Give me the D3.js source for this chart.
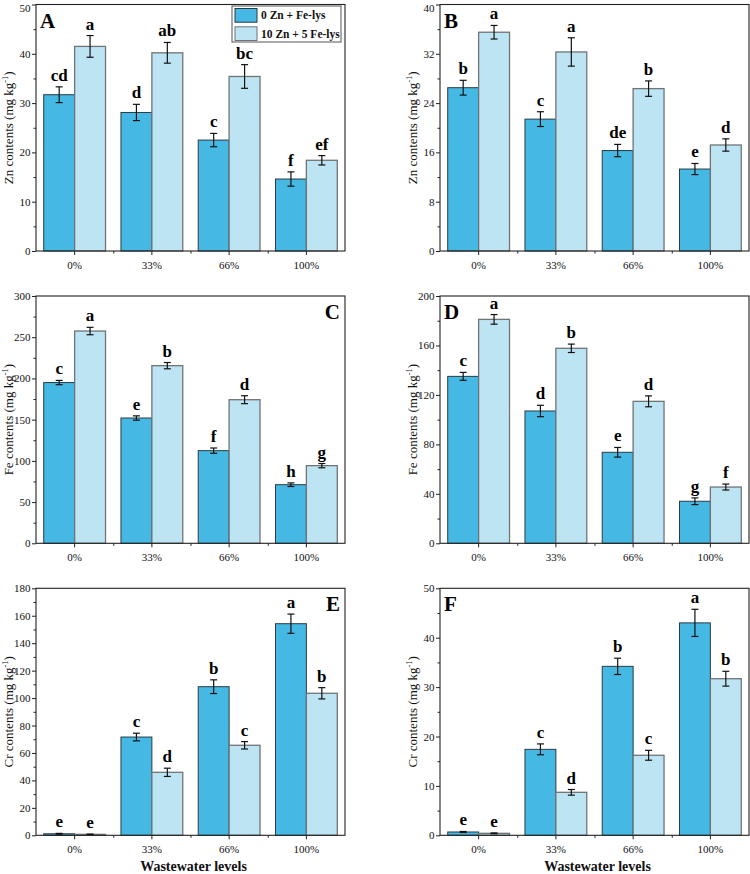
<!DOCTYPE html>
<html><head><meta charset="utf-8">
<script src="https://cdn.jsdelivr.net/npm/d3@7"></script>
<style>body{margin:0;background:#fff}</style>
</head><body><svg id="chart" width="750" height="874"></svg>
<script>
const categories = ["0%", "33%", "66%", "100%"];
const seriesNames = ["0 Zn + Fe-lys", "10 Zn + 5 Fe-lys"];

// Panel A – Zn
const aCtrl = [31.7, 28.1, 22.5, 14.6];
const aCtrlErr = [1.6, 1.65, 1.35, 1.45];
const aTrt = [41.5, 40.2, 35.4, 18.4];
const aTrtErr = [2.2, 2.1, 2.4, 0.95];
const aCtrlLetters = ["cd", "d", "c", "f"];
const aTrtLetters = ["a", "ab", "bc", "ef"];
const aTicks = [0, 10, 20, 30, 40, 50];

// Panel B – Zn
const bCtrl = [26.5, 21.4, 16.3, 13.3];
const bCtrlErr = [1.2, 1.2, 1.0, 0.9];
const bTrt = [35.5, 32.3, 26.35, 17.2];
const bTrtErr = [1.1, 2.3, 1.25, 1.0];
const bCtrlLetters = ["b", "c", "de", "e"];
const bTrtLetters = ["a", "a", "b", "d"];
const bTicks = [0, 8, 16, 24, 32, 40];

// Panel C – Fe
const cCtrl = [195, 152, 112.4, 71.1];
const cCtrlErr = [2.6, 2.6, 3.2, 2.2];
const cTrt = [257.5, 215.5, 174.2, 94.2];
const cTrtErr = [4.5, 3.8, 4.8, 2.6];
const cCtrlLetters = ["c", "e", "f", "h"];
const cTrtLetters = ["a", "b", "d", "g"];
const cTicks = [0, 50, 100, 150, 200, 250, 300];

// Panel D – Fe
const dCtrl = [135, 107, 73.6, 34];
const dCtrlErr = [3.2, 4.6, 3.9, 2.7];
const dTrt = [181.1, 157.7, 114.8, 45.5];
const dTrtErr = [3.9, 3.4, 4.4, 2.4];
const dCtrlLetters = ["c", "d", "e", "g"];
const dTrtLetters = ["a", "b", "d", "f"];
const dTicks = [0, 40, 80, 120, 160, 200];

// Panel E – Cr
const eCtrl = [1.1, 71.6, 108.3, 154.2];
const eCtrlErr = [0.3, 2.8, 5.0, 7.0];
const eTrt = [0.7, 45.9, 65.6, 103.5];
const eTrtErr = [0.2, 3.0, 2.7, 4.1];
const eCtrlLetters = ["e", "c", "b", "a"];
const eTrtLetters = ["e", "d", "c", "b"];
const eTicks = [0, 20, 40, 60, 80, 100, 120, 140, 160, 180];

// Panel F – Cr
const fCtrl = [0.67, 17.4, 34.2, 43.0];
const fCtrlErr = [0.1, 1.1, 1.65, 2.75];
const fTrt = [0.4, 8.7, 16.2, 31.7];
const fTrtErr = [0.08, 0.57, 1.0, 1.5];
const fCtrlLetters = ["e", "c", "b", "a"];
const fTrtLetters = ["e", "d", "c", "b"];
const fTicks = [0, 10, 20, 30, 40, 50];

const serif = '"Times New Roman", "Liberation Serif", Times, serif';
const colCtrl = "#45b9e4", colTrt = "#bde4f2";

const panels = [
  {id: "A", el: "Zn", ctrl: aCtrl, ce: aCtrlErr, trt: aTrt, te: aTrtErr, cl: aCtrlLetters, tl: aTrtLetters, ticks: aTicks, col: 0, row: 0, labelPos: "left", legend: true},
  {id: "B", el: "Zn", ctrl: bCtrl, ce: bCtrlErr, trt: bTrt, te: bTrtErr, cl: bCtrlLetters, tl: bTrtLetters, ticks: bTicks, col: 1, row: 0, labelPos: "left"},
  {id: "C", el: "Fe", ctrl: cCtrl, ce: cCtrlErr, trt: cTrt, te: cTrtErr, cl: cCtrlLetters, tl: cTrtLetters, ticks: cTicks, col: 0, row: 1, labelPos: "right"},
  {id: "D", el: "Fe", ctrl: dCtrl, ce: dCtrlErr, trt: dTrt, te: dTrtErr, cl: dCtrlLetters, tl: dTrtLetters, ticks: dTicks, col: 1, row: 1, labelPos: "left"},
  {id: "E", el: "Cr", ctrl: eCtrl, ce: eCtrlErr, trt: eTrt, te: eTrtErr, cl: eCtrlLetters, tl: eTrtLetters, ticks: eTicks, col: 0, row: 2, labelPos: "right", xTitle: true},
  {id: "F", el: "Cr", ctrl: fCtrl, ce: fCtrlErr, trt: fTrt, te: fTrtErr, cl: fCtrlLetters, tl: fTrtLetters, ticks: fTicks, col: 1, row: 2, labelPos: "left", xTitle: true}
];

const colX = [[36, 345], [440, 749]];
const rowY = [[4.5, 251], [296, 543.3], [588.3, 835.3]];

const svg = d3.select("#chart");

panels.forEach(p => {
  const [x0, x1] = colX[p.col];
  const [y0, y1] = rowY[p.row];
  const g = svg.append("g");
  const yMax = p.ticks[p.ticks.length - 1];
  const x = d3.scaleBand().domain(categories).range([x0, x1]).paddingInner(0.2).paddingOuter(0.1);
  const xs = d3.scaleBand().domain([0, 1]).range([0, x.bandwidth()]);
  const y = d3.scaleLinear().domain([0, yMax]).range([y1, y0]);
  const xb = d3.scaleLinear().domain([0, categories.length]).range([x0, x1]);

  const step = p.ticks[1] - p.ticks[0];
  const minor = p.ticks.slice(0, -1).map(t => t + step / 2);

  const data = categories.flatMap((c, i) => [
    {c, s: 0, v: p.ctrl[i], e: p.ce[i], l: p.cl[i]},
    {c, s: 1, v: p.trt[i], e: p.te[i], l: p.tl[i]}
  ]);
  g.selectAll("rect.bar").data(data).join("rect")
    .attr("x", d => x(d.c) + xs(d.s))
    .attr("y", d => y(d.v))
    .attr("width", xs.bandwidth())
    .attr("height", d => y(0) - y(d.v))
    .attr("fill", d => d.s === 0 ? colCtrl : colTrt)
    .attr("stroke", d => d.s === 0 ? "#2b3a40" : "#6f7477")
    .attr("stroke-width", d => d.s === 0 ? 1 : 1.3);

  const eb = g.selectAll("g.err").data(data).join("g");
  const cx = d => x(d.c) + xs(d.s) + xs.bandwidth() / 2;
  eb.append("line").attr("x1", cx).attr("x2", cx)
    .attr("y1", d => y(d.v + d.e)).attr("y2", d => y(Math.max(0, d.v - d.e)))
    .attr("stroke", "#111").attr("stroke-width", 1.2);
  eb.append("line").attr("x1", d => cx(d) - 3.5).attr("x2", d => cx(d) + 3.5)
    .attr("y1", d => y(d.v + d.e)).attr("y2", d => y(d.v + d.e))
    .attr("stroke", "#111").attr("stroke-width", 1.2);
  eb.append("line").attr("x1", d => cx(d) - 3.5).attr("x2", d => cx(d) + 3.5)
    .attr("y1", d => y(Math.max(0, d.v - d.e))).attr("y2", d => y(Math.max(0, d.v - d.e)))
    .attr("stroke", "#111").attr("stroke-width", 1.2);

  g.selectAll("text.let").data(data).join("text")
    .attr("x", cx)
    .attr("y", d => y(d.v + d.e) - 6)
    .attr("text-anchor", "middle")
    .attr("font-family", serif).attr("font-weight", "bold").attr("font-size", 17)
    .attr("fill", "#000")
    .text(d => d.l);

  const ya = g.append("g").attr("transform", `translate(${x0},0)`)
    .call(d3.axisLeft(y).tickValues(p.ticks).tickSize(4).tickPadding(1.5));
  ya.select(".domain").remove();
  ya.selectAll("text").attr("font-family", serif).attr("font-size", 11).attr("fill", "#111");
  ya.selectAll("text").filter(d => d === yMax && p.row === 0).attr("dy", "0.62em");
  ya.selectAll("line").attr("stroke", "#222");
  const ym = g.append("g").attr("transform", `translate(${x0},0)`)
    .call(d3.axisLeft(y).tickValues(minor).tickSize(2.5).tickFormat(""));
  ym.select(".domain").remove();
  ym.selectAll("line").attr("stroke", "#222");

  const xa = g.append("g").attr("transform", `translate(0,${y1})`)
    .call(d3.axisBottom(x).tickSize(4).tickPadding(6));
  xa.select(".domain").remove();
  xa.selectAll("text").attr("font-family", serif).attr("font-size", 11).attr("fill", "#111");
  xa.selectAll("line").attr("stroke", "#222");
  const xm = g.append("g").attr("transform", `translate(0,${y1})`)
    .call(d3.axisBottom(xb).tickValues(d3.range(1, categories.length)).tickSize(2.5).tickFormat(""));
  xm.select(".domain").remove();
  xm.selectAll("line").attr("stroke", "#222");

  g.append("rect").attr("x", x0).attr("y", y0).attr("width", x1 - x0).attr("height", y1 - y0)
    .attr("fill", "none").attr("stroke", "#222").attr("stroke-width", 1.1);

  const yt = g.append("text")
    .attr("transform", `translate(${x0 - 23.5},${(y0 + y1) / 2}) rotate(-90)`)
    .attr("text-anchor", "middle")
    .attr("font-family", serif).attr("font-size", 13).attr("fill", "#111");
  yt.append("tspan").text(`${p.el} contents (mg kg`);
  yt.append("tspan").attr("font-size", 8.5).attr("dy", -5).text("-1");
  yt.append("tspan").attr("dy", 5).text(")");

  g.append("text")
    .attr("x", p.labelPos === "left" ? x0 + 4 : x1 - 5)
    .attr("y", y0 + 23)
    .attr("text-anchor", p.labelPos === "left" ? "start" : "end")
    .attr("font-family", serif).attr("font-weight", "bold").attr("font-size", 21)
    .attr("fill", "#000")
    .text(p.id);

  if (p.xTitle) {
    g.append("text")
      .attr("x", (x0 + x1) / 2 + 3).attr("y", y1 + 36)
      .attr("text-anchor", "middle")
      .attr("font-family", serif).attr("font-weight", "bold").attr("font-size", 14)
      .attr("fill", "#111")
      .text("Wastewater levels");
  }

  if (p.legend) {
    const lg = g.append("g");
    lg.append("rect").attr("x", x1 - 113).attr("y", y0 + 1.5).attr("width", 109).attr("height", 36)
      .attr("fill", "#fff").attr("stroke", "#555").attr("stroke-width", 1);
    const ly = d3.scaleBand().domain(seriesNames).range([y0 + 4, y0 + 36]).paddingInner(0.25);
    lg.selectAll("rect.sw").data(seriesNames).join("rect")
      .attr("x", x1 - 110).attr("y", d => ly(d)).attr("width", 22).attr("height", ly.bandwidth())
      .attr("fill", (d, i) => i === 0 ? colCtrl : colTrt)
      .attr("stroke", (d, i) => i === 0 ? "#2b3a40" : "#6f7477");
    lg.selectAll("text.lt").data(seriesNames).join("text")
      .attr("x", x1 - 84).attr("y", d => ly(d) + ly.bandwidth() / 2 + 4)
      .attr("font-family", serif).attr("font-weight", "bold").attr("font-size", 11.5)
      .attr("fill", "#111")
      .text(d => d);
  }
});
</script>
</body></html>
